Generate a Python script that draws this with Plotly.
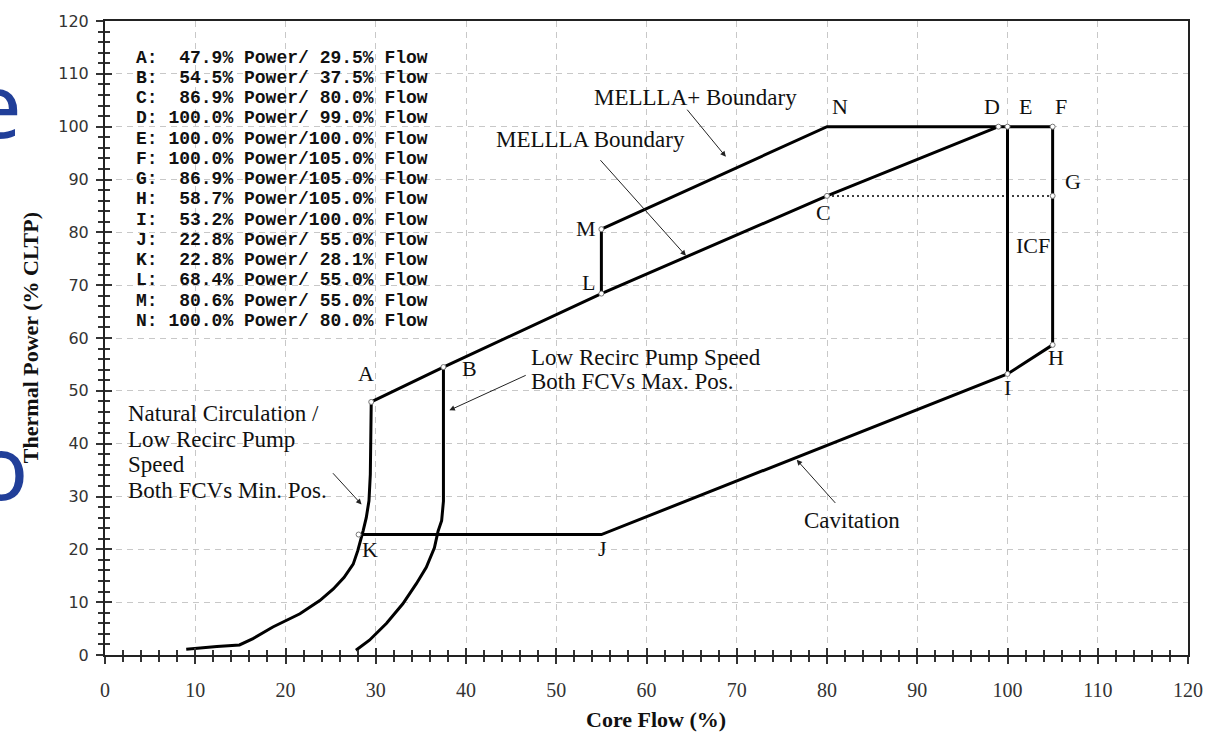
import plotly.graph_objects as go

# ---------------- data ----------------
point_names = ["A", "B", "C", "D", "E", "F", "G", "H", "I", "J", "K", "L", "M", "N"]
point_power = [47.9, 54.5, 86.9, 100.0, 100.0, 100.0, 86.9, 58.7, 53.2, 22.8, 22.8, 68.4, 80.6, 100.0]
point_flow = [29.5, 37.5, 80.0, 99.0, 100.0, 105.0, 105.0, 105.0, 100.0, 55.0, 28.1, 55.0, 55.0, 80.0]

# natural circulation / low recirc pump speed, both FCVs min. position
natcirc_flow = [29.5, 29.4, 29.25, 28.95, 28.6, 28.0, 27.5, 26.5, 25.3, 23.8, 21.6, 18.6, 16.4, 14.9, 12.4, 9.0]
natcirc_power = [47.9, 34.2, 29.2, 26.0, 23.5, 19.7, 17.2, 14.7, 12.5, 10.3, 7.8, 5.3, 3.1, 1.9, 1.6, 1.1]

# low recirc pump speed, both FCVs max. position
maxpos_flow = [37.5, 37.5, 37.3, 36.9, 36.5, 35.6, 34.5, 33.0, 31.2, 29.3, 27.8]
maxpos_power = [54.5, 29.1, 25.4, 23.4, 20.3, 16.6, 13.5, 9.7, 6.0, 2.8, 0.9]

# boundary segments (by point name)
solid_segments = [["A", "B", "L", "C", "D"],      # MELLLA boundary
                  ["M", "N", "F"],                # MELLLA+ boundary
                  ["L", "M"],
                  ["E", "I"],
                  ["F", "H"],
                  ["H", "I", "J", "K"]]           # cavitation / low power
dotted_segment = ["C", "G"]
marker_points = ["A", "B", "C", "D", "E", "F", "G", "H", "I", "K", "L", "M"]

x_ticks = list(range(0, 121, 10))
y_ticks = list(range(0, 121, 10))

# ---------------- figure ----------------
P = {n: (f, p) for n, f, p in zip(point_names, point_flow, point_power)}


def seg(names):
    return [P[n][0] for n in names], [P[n][1] for n in names]


W, H = 1215, 736
L0, R0, T0, B0 = 105, 1190, 15, 655  # plot area in pixels


def px2x(px):
    return (px - L0) / (R0 - L0) * 120.0


def py2y(py):
    return (B0 - py) / (B0 - T0) * 120.0


def ppx(px):
    return (px - L0) / (R0 - L0)


def ppy(py):
    return (B0 - py) / (B0 - T0)


fig = go.Figure()
thick = dict(color="black", width=3)

for names in solid_segments:
    xs, ys = seg(names)
    fig.add_trace(go.Scatter(x=xs, y=ys, mode="lines", line=thick,
                             hoverinfo="skip", showlegend=False))

fig.add_trace(go.Scatter(x=natcirc_flow, y=natcirc_power, mode="lines", line=thick,
                         hoverinfo="skip", showlegend=False))
fig.add_trace(go.Scatter(x=maxpos_flow, y=maxpos_power, mode="lines", line=thick,
                         hoverinfo="skip", showlegend=False))

xs, ys = seg(dotted_segment)
fig.add_trace(go.Scatter(x=xs, y=ys, mode="lines",
                         line=dict(color="black", width=1.5, dash="2px,3px"),
                         hoverinfo="skip", showlegend=False))

xs, ys = seg(marker_points)
fig.add_trace(go.Scatter(x=xs, y=ys, mode="markers", xaxis="x2", yaxis="y2",
                         marker=dict(symbol="circle", size=5, color="white",
                                     line=dict(color="#777", width=1)),
                         hoverinfo="skip", showlegend=False))

serif = "Liberation Serif, Times New Roman, serif"
ann = []

# point labels
label_px = {"A": (366, 371), "B": (470, 366), "C": (825, 208), "D": (994, 101),
            "E": (1027, 101), "F": (1063, 101), "G": (1075, 177), "H": (1058, 355),
            "I": (1009, 385), "J": (603, 547), "K": (370, 549), "L": (589, 279),
            "M": (587, 224), "N": (841, 101)}
for n in point_names:
    px, py = label_px[n]
    ann.append(dict(x=px2x(px), y=py2y(py), xref="x", yref="y", text=n, showarrow=False,
                    font=dict(family=serif, size=22, color="#111")))
ann.append(dict(x=px2x(1035), y=py2y(242), xref="x", yref="y", text="ICF", showarrow=False,
                font=dict(family=serif, size=22, color="#111")))


# descriptive texts
def text(t, px, py, anchor="center", size=23):
    ann.append(dict(x=px2x(px), y=py2y(py), xref="x", yref="y", text=t, showarrow=False,
                    xanchor=anchor, yanchor="middle",
                    font=dict(family=serif, size=size, color="#111")))


text("MELLLA+ Boundary", 697, 92)
text("MELLLA Boundary", 591, 135)
text("Low Recirc Pump Speed", 530, 355, "left")
text("Both FCVs Max. Pos.", 530, 379, "left")
text("Natural Circulation /", 126, 411, "left")
text("Low Recirc Pump", 126, 437, "left")
text("Speed", 126, 463, "left")
text("Both FCVs Min. Pos.", 126, 489, "left")
text("Cavitation", 853, 519)

# arrows (tail -> head in pixels)
arrows = [((687, 103), (727, 152)),
          ((600, 154), (687, 252)),
          ((528, 372), (450, 408)),
          ((332, 470), (362, 503)),
          ((838, 503), (798, 458))]
for (tx, ty), (hx, hy) in arrows:
    ann.append(dict(x=px2x(hx), y=py2y(hy), ax=px2x(tx), ay=py2y(ty), xref="x", yref="y",
                    axref="x", ayref="y", text="", showarrow=True, arrowhead=2,
                    arrowsize=1.1, arrowwidth=1, arrowcolor="#222"))

# data table
mono = "Liberation Mono, Courier New, monospace"
for i, (n, p, f) in enumerate(zip(point_names, point_power, point_flow)):
    row = f"{n}: {p:5.1f}% Power/{f:5.1f}% Flow".replace(" ", "\u00a0")
    ann.append(dict(x=px2x(134), y=py2y(52 + 20.45 * i), xref="x", yref="y", text=row,
                    showarrow=False, xanchor="left", yanchor="middle",
                    font=dict(family=mono, size=18, color="#111", weight="bold")))

# axis titles
ann.append(dict(x=ppx(657), y=ppy(720), xref="paper", yref="paper",
                xanchor="center", yanchor="middle",
                text="Core Flow (%)", showarrow=False,
                font=dict(family=serif, size=22, color="#111", weight="bold")))
ann.append(dict(x=ppx(30), y=ppy(335), xref="paper", yref="paper",
                xanchor="center", yanchor="middle",
                text="Thermal Power (% CLTP)", showarrow=False, textangle=-90,
                font=dict(family=serif, size=22, color="#111", weight="bold")))

# partial slide letters at left edge
ann.append(dict(x=ppx(24), y=ppy(98), xref="paper", yref="paper",
                text="e", showarrow=False, xanchor="right", yanchor="middle",
                font=dict(family="Noto Sans", size=90, color="#213f99")))
ann.append(dict(x=ppx(30), y=ppy(463), xref="paper", yref="paper",
                text="o", showarrow=False, xanchor="right", yanchor="middle",
                font=dict(family="Noto Sans", size=90, color="#213f99")))

tickc = "#333"
common_grid = dict(showgrid=True, gridcolor="#c8c8c8", griddash="6px,5px", gridwidth=1)

fig.update_layout(
    width=W, height=H,
    margin=dict(l=L0, r=W - R0, t=T0, b=H - B0),
    plot_bgcolor="white", paper_bgcolor="white",
    showlegend=False,
    annotations=ann,
    xaxis=dict(range=[0, 120], tickvals=x_ticks, **common_grid,
               showline=True, linecolor="#222", linewidth=2, mirror=True,
               ticks="outside", ticklen=7, tickwidth=1.5, tickcolor=tickc,
               minor=dict(dtick=2, ticks="outside", ticklen=5, tickwidth=1.5,
                          tickcolor=tickc, showgrid=False),
               tickfont=dict(family=serif, size=20, color="#333"),
               ticklabelstandoff=9, zeroline=False, fixedrange=True),
    yaxis=dict(range=[0, 120], tickvals=y_ticks, **common_grid,
               showline=True, linecolor="#222", linewidth=2, mirror=True,
               ticks="outside", ticklen=7, tickwidth=1.5, tickcolor=tickc,
               minor=dict(dtick=2, ticks="outside", ticklen=5, tickwidth=1.5,
                          tickcolor=tickc, showgrid=False),
               tickfont=dict(family="DejaVu Sans, Verdana, sans-serif", size=16, color="#333"),
               ticklabelstandoff=4, zeroline=False, fixedrange=True),
    xaxis2=dict(overlaying="x", anchor="y", side="bottom", range=[0, 120], tickvals=x_ticks,
                ticks="inside", ticklen=7, tickwidth=1.5, tickcolor=tickc,
                minor=dict(dtick=2, ticks="inside", ticklen=5, tickwidth=1.5, tickcolor=tickc),
                showticklabels=False, showgrid=False, zeroline=False, showline=False,
                fixedrange=True),
    yaxis2=dict(overlaying="y", anchor="x", side="left", range=[0, 120], tickvals=y_ticks,
                ticks="inside", ticklen=7, tickwidth=1.5, tickcolor=tickc,
                minor=dict(dtick=2, ticks="inside", ticklen=5, tickwidth=1.5, tickcolor=tickc),
                showticklabels=False, showgrid=False, zeroline=False, showline=False,
                fixedrange=True),
)

fig.write_html("out.html")
